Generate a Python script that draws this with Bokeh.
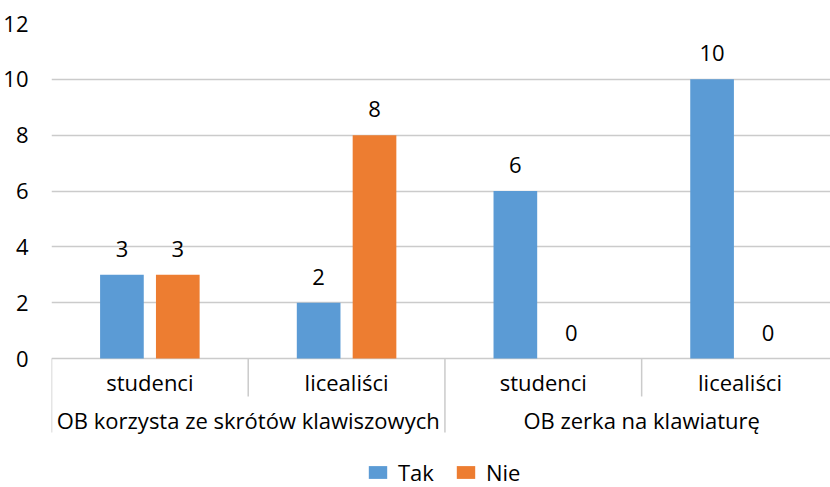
from bokeh.plotting import figure
from bokeh.models import Range1d, FixedTicker, Legend, LegendItem, ColumnDataSource
from bokeh.core.properties import value
from bokeh.embed import file_html
from bokeh.resources import INLINE

groups = ["OB korzysta ze skrótów klawiszowych", "OB zerka na klawiaturę"]
subcats = ["studenci", "licealiści", "studenci", "licealiści"]
tak = [3, 2, 6, 10]
nie = [3, 8, 0, 0]
y_ticks = [0, 2, 4, 6, 8, 10, 12]
series = ["Tak", "Nie"]

FONT = "Open Sans"
FS = "22px"
BLUE = "#5B9BD5"
ORANGE = "#ED7D31"
GRID = "#CBCBCB"

p = figure(width=830, height=487, output_backend="svg", toolbar_location=None,
           x_range=Range1d(0, 3.96), y_range=Range1d(-4.62, 12),
           min_border_left=50, min_border_right=0, min_border_top=23, min_border_bottom=0)
p.outline_line_color = None
p.xaxis.visible = False
p.xgrid.grid_line_color = None
p.ygrid.ticker = FixedTicker(ticks=y_ticks)
p.ygrid.grid_line_color = GRID
p.ygrid.grid_line_width = 1.5
p.yaxis.ticker = FixedTicker(ticks=y_ticks)
p.yaxis.axis_line_color = None
p.yaxis.major_tick_line_color = None
p.yaxis.minor_tick_line_color = None
p.yaxis.major_label_standoff = 17
p.yaxis.major_label_text_font = FONT
p.yaxis.major_label_text_font_size = FS
p.yaxis.major_label_text_color = "black"

n = len(subcats)
centers = [i + 0.5 for i in range(n)]
off = 0.142
bw = 0.222
src = ColumnDataSource(dict(
    xt=[c - off for c in centers], xn=[c + off for c in centers],
    tak=tak, nie=nie,
    tak_l=[str(v) for v in tak], nie_l=[str(v) for v in nie],
))
r_tak = p.vbar(x="xt", top="tak", bottom=0, width=bw, source=src, fill_color=BLUE, line_color=None)
r_nie = p.vbar(x="xn", top="nie", bottom=0, width=bw, source=src, fill_color=ORANGE, line_color=None)

p.text(x="xt", y="tak", text="tak_l", source=src, text_align="center", text_baseline="middle",
       y_offset=-26, text_font=value(FONT), text_font_size=FS, text_color="black")
p.text(x="xn", y="nie", text="nie_l", source=src, text_align="center", text_baseline="middle",
       y_offset=-26, text_font=value(FONT), text_font_size=FS, text_color="black")

# category axis separators
tall_y = -2.65
short_y = -1.36
sep_x = list(range(n + 1))
sep_bottom = [tall_y if i % 2 == 0 else short_y for i in sep_x]
p.segment(x0=sep_x, y0=[0] * len(sep_x), x1=sep_x, y1=sep_bottom, line_color=GRID, line_width=1.5)

# sub-category labels
p.text(x=centers, y=[-0.85] * n, text=subcats, text_align="center", text_baseline="middle",
       text_font=value(FONT), text_font_size=FS, text_color="black")
# group labels
gx = [1.0 + 2 * g for g in range(len(groups))]
p.text(x=gx, y=[-2.2] * len(groups), text=groups, text_align="center", text_baseline="middle",
       text_font=value(FONT), text_font_size=FS, text_color="black")

legend = Legend(items=[LegendItem(label=series[0], renderers=[r_tak]),
                       LegendItem(label=series[1], renderers=[r_nie])],
                orientation="horizontal", location=(315, 0), padding=0, margin=0,
                spacing=20, label_standoff=9, glyph_width=23, glyph_height=16,
                border_line_color=None, background_fill_alpha=0,
                label_text_font=FONT, label_text_font_size=FS, label_text_color="black")
p.add_layout(legend, "center")

open("out.html", "w").write(file_html(p, INLINE))
